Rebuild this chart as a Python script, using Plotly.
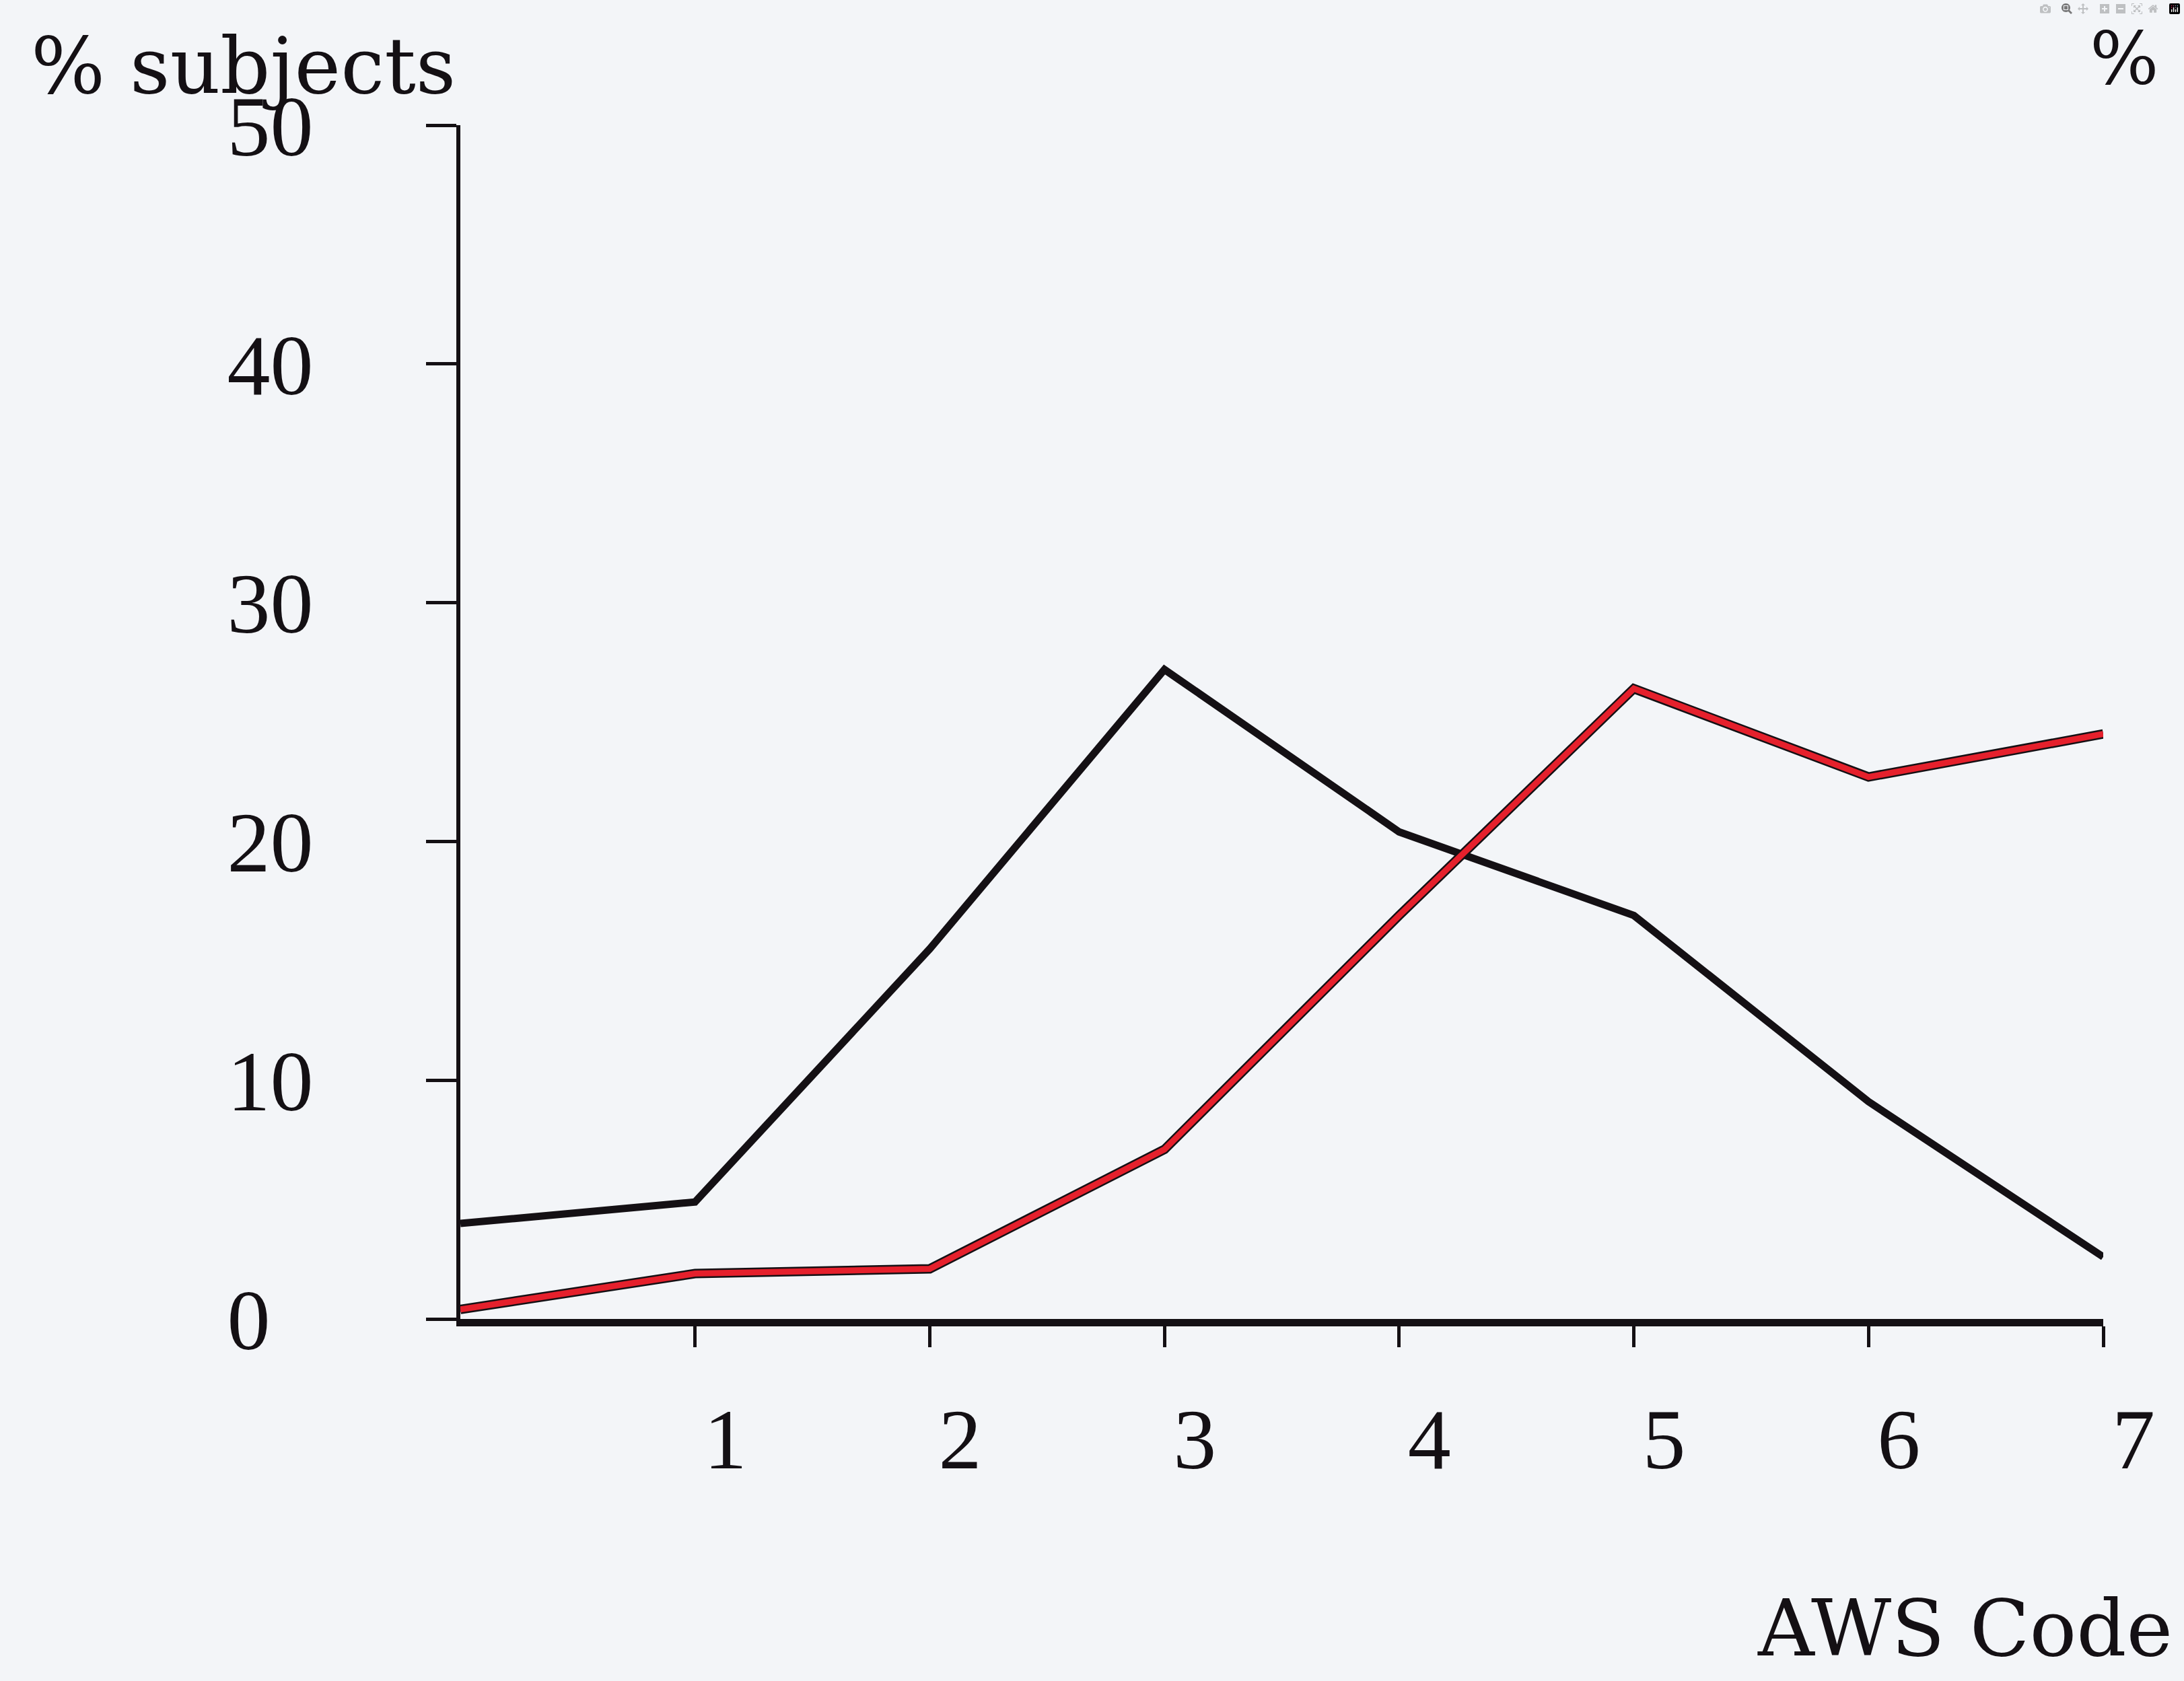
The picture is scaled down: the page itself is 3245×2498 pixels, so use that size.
import plotly.graph_objects as go

# ---- data ----
aws_code = [0, 1, 2, 3, 4, 5, 6, 7]
black_series = [4.0, 4.9, 15.5, 27.2, 20.4, 16.9, 9.1, 2.6]
red_series = [0.4, 1.9, 2.1, 7.1, 16.9, 26.4, 22.7, 24.5]

x_ticks = [1, 2, 3, 4, 5, 6, 7]
x_tick_labels = ["1", "2", "3", "4", "5", "6", "7"]
y_ticks = [0, 10, 20, 30, 40, 50]
y_tick_labels = ["0\u2007", "10", "20", "30", "40", "50"]

BG = "#f3f5f8"
INK = "#141014"
RED = "#e5202c"
TICK_FONT = dict(family="Liberation Serif", size=128, color=INK)
TEXT_FONT = dict(family="DejaVu Serif", size=116, color=INK)

fig = go.Figure()
fig.add_trace(go.Scatter(x=aws_code, y=black_series, mode="lines",
                         line=dict(color=INK, width=11), name="black", hoverinfo="skip"))
fig.add_trace(go.Scatter(x=aws_code, y=red_series, mode="lines",
                         line=dict(color=INK, width=14), name="red outline", hoverinfo="skip"))
fig.add_trace(go.Scatter(x=aws_code, y=red_series, mode="lines",
                         line=dict(color=RED, width=9), name="red", hoverinfo="skip"))

fig.update_layout(
    width=3245, height=2498,
    margin=dict(l=684, r=120, t=186, b=538, pad=0),
    paper_bgcolor=BG, plot_bgcolor=BG,
    showlegend=False,
    xaxis=dict(range=[0, 7], tickmode="array", tickvals=x_ticks, ticktext=x_tick_labels,
               showline=True, linecolor=INK, linewidth=11, showgrid=False, zeroline=False,
               ticks="outside", ticklen=31, tickwidth=5, tickcolor=INK,
               tickfont=TICK_FONT, ticklabelshift=45, ticklabelstandoff=26),
    yaxis=dict(range=[0, 50], tickmode="array", tickvals=y_ticks, ticktext=y_tick_labels,
               showline=True, linecolor=INK, linewidth=6, showgrid=False, zeroline=False,
               ticks="outside", ticklen=45, tickwidth=5, tickcolor=INK,
               tickfont=TICK_FONT, ticklabelstandoff=142),
    annotations=[
        dict(text="% subjects", xref="paper", yref="paper", x=-0.262, y=1.05,
             xanchor="left", yanchor="middle", showarrow=False, font=TEXT_FONT),
        dict(text="%", xref="paper", yref="paper", x=1.013, y=1.056,
             xanchor="center", yanchor="middle", showarrow=False,
             font=dict(family="DejaVu Serif", size=108, color=INK)),
        dict(text="AWS Code", xref="paper", yref="paper", x=1.043, y=-0.259,
             xanchor="right", yanchor="middle", showarrow=False, font=TEXT_FONT),
    ],
)

fig.write_html("out.html", post_script="document.body.style.margin='0';")
